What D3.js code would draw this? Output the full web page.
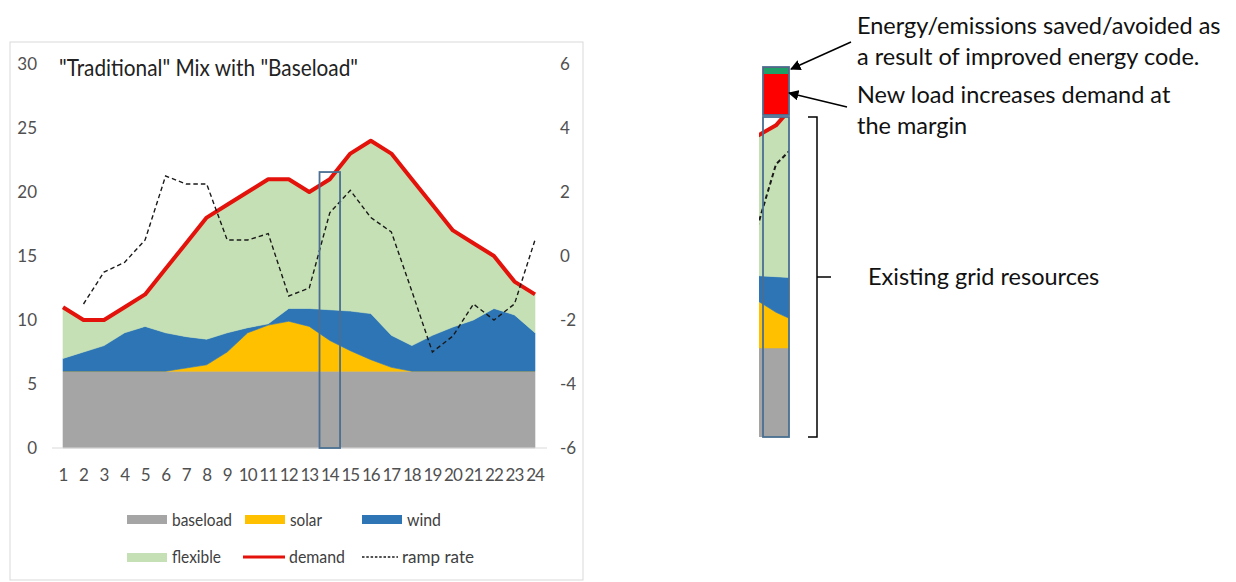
<!DOCTYPE html>
<html>
<head>
<meta charset="utf-8">
<script src="https://cdn.jsdelivr.net/npm/d3@7"></script>
<style>
  body { margin: 0; background: #fff; }
  svg { display: block; font-family: Lato, "Open Sans", sans-serif; }
</style>
</head>
<body>
<svg id="chart" width="1236" height="582"></svg>
<script>
// Hourly generation mix for a "traditional" grid with baseload plants
const hours    = [1, 2, 3, 4, 5, 6, 7, 8, 9, 10, 11, 12, 13, 14, 15, 16, 17, 18, 19, 20, 21, 22, 23, 24];
const baseload = [6, 6, 6, 6, 6, 6, 6, 6, 6, 6, 6, 6, 6, 6, 6, 6, 6, 6, 6, 6, 6, 6, 6, 6];
const solar    = [0, 0, 0, 0, 0, 0, 0.25, 0.5, 1.5, 3, 3.6, 3.9, 3.5, 2.4, 1.6, 0.9, 0.3, 0, 0, 0, 0, 0, 0, 0];
const wind     = [1, 1.5, 2, 3, 3.5, 3, 2.45, 2, 1.5, 0.4, 0.1, 1, 1.4, 2.4, 3.1, 3.6, 2.5, 2, 2.8, 3.45, 4, 4.9, 4.4, 3];
const demand   = [11, 10, 10, 11, 12, 14, 16, 18, 19, 20, 21, 21, 20, 21, 23, 24, 23, 21, 19, 17, 16, 15, 13, 12];
const rampRate = [null, -1.5, -0.5, -0.2, 0.5, 2.5, 2.25, 2.25, 0.5, 0.5, 0.7, -1.25, -1.0, 1.35, 2.05, 1.2, 0.75, -1.1, -3.0, -2.5, -1.5, -2.0, -1.5, 0.5];

const leftTicks  = [0, 5, 10, 15, 20, 25, 30];
const rightTicks = [-6, -4, -2, 0, 2, 4, 6];
const seriesKeys = ["baseload", "solar", "wind", "flexible"];
const legendRow1 = ["baseload", "solar", "wind"];
const legendRow2 = ["flexible", "demand", "ramp rate"];

// hour that is pulled out into the magnified column on the right
const focusHour = 14;
const focusTop  = 21.56;

const colors = {
  baseload: "#a5a5a5",
  solar: "#ffc000",
  wind: "#2e75b6",
  flexible: "#c5e0b4",
  demand: "#e3120b",
  ramp: "#1a1a1a",
  outline: "#4a6f92"
};

const rows = hours.map((h, i) => ({
  hour: h,
  baseload: baseload[i],
  solar: solar[i],
  wind: wind[i],
  flexible: demand[i] - baseload[i] - solar[i] - wind[i]
}));
const layers = d3.stack().keys(seriesKeys)(rows);

const svg = d3.select("#chart");

// scales for the main chart
const x  = d3.scaleLinear().domain([1, 24]).range([63, 535]);
const yL = d3.scaleLinear().domain([0, 30]).range([448, 64]);
const yR = d3.scaleLinear().domain([-6, 6]).range([448, 64]);

function drawSeries(g, xs, yl, yr, lineW, dashW) {
  const area = d3.area()
    .x((d, i) => xs(hours[i]))
    .y0(d => yl(d[0]))
    .y1(d => yl(d[1]));
  g.selectAll("path.layer").data(layers).join("path")
    .attr("class", "layer")
    .attr("fill", d => colors[d.key])
    .attr("stroke", d => colors[d.key])
    .attr("stroke-width", 0.6)
    .attr("d", area);

  g.append("path")
    .datum(demand)
    .attr("fill", "none")
    .attr("stroke", colors.demand)
    .attr("stroke-width", lineW)
    .attr("stroke-linejoin", "round")
    .attr("d", d3.line().x((d, i) => xs(hours[i])).y(d => yl(d)));

  g.append("path")
    .datum(rampRate)
    .attr("fill", "none")
    .attr("stroke", colors.ramp)
    .attr("stroke-width", dashW)
    .attr("stroke-dasharray", "4.5,3")
    .attr("d", d3.line().defined(d => d != null).x((d, i) => xs(hours[i])).y(d => yr(d)));
}

// chart frame
svg.append("rect")
  .attr("x", 10).attr("y", 42).attr("width", 573).attr("height", 538)
  .attr("fill", "#fff").attr("stroke", "#d9d9d9").attr("stroke-width", 1);

const main = svg.append("g");
drawSeries(main, x, yL, yR, 4, 1.4);

// horizontal axis line
svg.append("line")
  .attr("x1", 52).attr("x2", 547).attr("y1", yL(0)).attr("y2", yL(0))
  .attr("stroke", "#d9d9d9").attr("stroke-width", 1.2);

// outline around the focus hour
svg.append("rect")
  .attr("x", x(focusHour - 0.5)).attr("y", yL(focusTop))
  .attr("width", x(focusHour + 0.5) - x(focusHour - 0.5))
  .attr("height", yL(0) - yL(focusTop))
  .attr("fill", "none").attr("stroke", colors.outline).attr("stroke-width", 1.8);

// axis labels
svg.append("g").selectAll("text").data(leftTicks).join("text")
  .attr("x", 37).attr("y", d => yL(d)).attr("dy", "0.35em")
  .attr("text-anchor", "end").attr("font-size", 17).attr("fill", "#505050")
  .text(d => d);

svg.append("g").selectAll("text").data(rightTicks).join("text")
  .attr("x", 560).attr("y", d => yR(d)).attr("dy", "0.35em")
  .attr("text-anchor", "start").attr("font-size", 17).attr("fill", "#505050")
  .text(d => d);

svg.append("g").selectAll("text").data(hours).join("text")
  .attr("x", d => x(d)).attr("y", 481)
  .attr("text-anchor", "middle").attr("font-size", 17).attr("fill", "#505050")
  .attr("letter-spacing", -1)
  .text(d => d);

// title (condensed to the width of the plot heading)
svg.append("text")
  .attr("x", 59).attr("y", 76)
  .attr("font-size", 24).attr("fill", "#222")
  .attr("textLength", 299).attr("lengthAdjust", "spacingAndGlyphs")
  .text('"Traditional" Mix with "Baseload"');

// legend
const legend = svg.append("g").attr("font-size", 18).attr("fill", "#404040");
const labelWidths = { "baseload": 60, "solar": 32, "wind": 34, "flexible": 49, "demand": 56, "ramp rate": 72 };
function legendLabel(xp, yp, label) {
  legend.append("text").attr("x", xp).attr("y", yp).attr("dy", "0.35em")
    .attr("textLength", labelWidths[label]).attr("lengthAdjust", "spacingAndGlyphs")
    .text(label);
}
const row1X = [127, 245, 362];
legendRow1.forEach((k, i) => {
  legend.append("rect").attr("x", row1X[i]).attr("y", 515).attr("width", 40).attr("height", 9)
    .attr("fill", colors[k]);
  legendLabel(row1X[i] + 45, 520, k);
});
legend.append("rect").attr("x", 127).attr("y", 553).attr("width", 40).attr("height", 9)
  .attr("fill", colors.flexible);
legendLabel(172, 557, legendRow2[0]);
legend.append("line").attr("x1", 243).attr("x2", 285).attr("y1", 557).attr("y2", 557)
  .attr("stroke", colors.demand).attr("stroke-width", 3);
legendLabel(289, 557, legendRow2[1]);
legend.append("line").attr("x1", 362).attr("x2", 398).attr("y1", 557).attr("y2", 557)
  .attr("stroke", colors.ramp).attr("stroke-width", 1.3).attr("stroke-dasharray", "2.5,1.8");
legendLabel(402, 557, legendRow2[2]);

// magnified column for the focus hour
const colX0 = 763, colX1 = 789, colTop = 117, colBottom = 437;
const xs  = d3.scaleLinear().domain([focusHour - 0.5, focusHour + 0.5]).range([colX0, colX1]);
const ysL = d3.scaleLinear().domain([0, focusTop]).range([colBottom, colTop]);
const ysR = d3.scaleLinear().domain([yR.invert(yL(0)), yR.invert(yL(focusTop))]).range([colBottom, colTop]);

const defs = svg.append("defs");
defs.append("clipPath").attr("id", "colClip")
  .append("rect").attr("x", colX0 - 4).attr("y", colTop).attr("width", colX1 - colX0 + 4).attr("height", colBottom - colTop);
defs.append("marker").attr("id", "arrow")
  .attr("viewBox", "0 0 10 10").attr("refX", 9).attr("refY", 5)
  .attr("markerWidth", 7).attr("markerHeight", 7).attr("orient", "auto")
  .append("path").attr("d", "M0,0 L10,5 L0,10 z").attr("fill", "#000");

const col = svg.append("g").attr("clip-path", "url(#colClip)");
drawSeries(col, xs, ysL, ysR, 4, 2);

svg.append("rect")
  .attr("x", colX0).attr("y", colTop).attr("width", colX1 - colX0).attr("height", colBottom - colTop)
  .attr("fill", "none").attr("stroke", colors.outline).attr("stroke-width", 1.8);

// added load block: savings band on top of the new load
const blockTop = 67, blockBottom = 115;
svg.append("rect").attr("x", colX0).attr("y", blockTop).attr("width", colX1 - colX0).attr("height", blockBottom - blockTop)
  .attr("fill", "#ff0000").attr("stroke", colors.outline).attr("stroke-width", 1.8);
svg.append("rect").attr("x", colX0 + 1).attr("y", blockTop + 1).attr("width", colX1 - colX0 - 2).attr("height", 6)
  .attr("fill", "#1f9f68");

// annotations
const note = svg.append("g").attr("font-size", 23.5).attr("fill", "#111");
note.append("text").attr("x", 857).attr("y", 34).text("Energy/emissions saved/avoided as");
note.append("text").attr("x", 857).attr("y", 65).text("a result of improved energy code.");
note.append("text").attr("x", 857).attr("y", 103).text("New load increases demand at");
note.append("text").attr("x", 857).attr("y", 134).text("the margin");
note.append("text").attr("x", 868).attr("y", 285).text("Existing grid resources");

svg.append("line").attr("x1", 851).attr("y1", 42).attr("x2", 791).attr("y2", 69)
  .attr("stroke", "#000").attr("stroke-width", 1.5).attr("marker-end", "url(#arrow)");
svg.append("line").attr("x1", 847).attr("y1", 107).attr("x2", 789).attr("y2", 93)
  .attr("stroke", "#000").attr("stroke-width", 1.5).attr("marker-end", "url(#arrow)");

// bracket spanning the existing resources
svg.append("path")
  .attr("d", `M808,${colTop} H817 V${colBottom} H808 M817,277 H831`)
  .attr("fill", "none").attr("stroke", "#000").attr("stroke-width", 1.5);
</script>
</body>
</html>
